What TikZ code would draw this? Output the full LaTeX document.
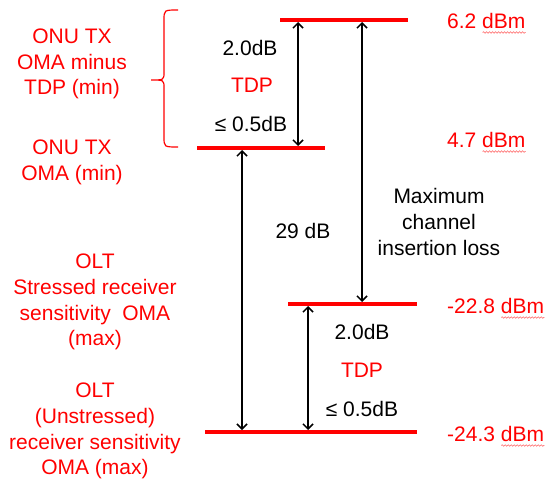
\documentclass[tikz,border=0pt]{standalone}
\usepackage{fontspec}
\setmainfont{Liberation Sans}
\usetikzlibrary{arrows.meta,decorations.pathmorphing}

\begin{document}
\begin{tikzpicture}[%
      x=1pt, y=-1pt,
      powerline/.style={color=red, line width=4pt},
      dbarrow/.style={color=black, line width=1.5pt, shorten <=2pt, shorten >=2pt,
        {Straight Barb[length=5pt,width=10pt]}-{Straight Barb[length=5pt,width=10pt]}},
      txt/.style={font=\fontsize{21}{25.7}\selectfont, align=center, inner sep=0pt},
      redtxt/.style={txt, text=red},
      dbmtext/.style={txt, text=red, anchor=west},
      squiggle/.style={color=red!60, line width=0.6pt, decorate,
        decoration={snake, amplitude=0.8pt, segment length=3pt}},
      ]
      \useasboundingbox (0,0) rectangle (548,481);

      \draw [powerline] (280,20) -- (408,20);
      \draw [powerline] (197,148) -- (325,148);
      \draw [powerline] (288,304) -- (417,304);
      \draw [powerline] (205,432) -- (417,432);

      \coordinate (tdpa) at (298,20);
      \coordinate (tdpb) at (298,148);
      \coordinate (mcla) at (362,20);
      \coordinate (mclb) at (362,304);
      \coordinate (pba) at (242,148);
      \coordinate (pbb) at (242,432);
      \coordinate (tdpc) at (308,304);
      \coordinate (tdpd) at (308,432);

      \draw [dbarrow] (tdpa) -- (tdpb);
      \draw [dbarrow] (mcla) -- (mclb);
      \draw [dbarrow] (pba) -- (pbb);
      \draw [dbarrow] (tdpc) -- (tdpd);

      \draw [color=red, line width=1.2pt] (178,10) .. controls (164,10) .. (164,20)
        -- (164,72) .. controls (164,80) .. (151,80) .. controls (164,80) .. (164,88)
        -- (164,137) .. controls (164,147) .. (178,147);

      \node [redtxt] (onutdp) at (72,64) {ONU TX\\OMA minus\\TDP (min)};
      \node [redtxt] (onutx) at (72,162) {ONU TX\\OMA (min)};
      \node [redtxt] (oltstr) at (95,302) {OLT\\Stressed receiver\\sensitivity\ \ OMA\\(max)};
      \node [redtxt] (oltunstr) at (95,431) {OLT\\(Unstressed)\\receiver sensitivity\\OMA (max)};

      \node [txt] (tdphi) at (250,48) {2.0dB};
      \node [redtxt] (tdpname) at (252,85) {TDP};
      \node [txt] (tdplo) at (251,124) {≤ 0.5dB};
      \node [txt] (tdphi2) at (362,332) {2.0dB};
      \node [redtxt] (tdpname2) at (362,370) {TDP};
      \node [txt] (tdplo2) at (362,409) {≤ 0.5dB};

      \node [txt] (budget) at (303,231) {29 dB};
      \node [txt] (mcil) at (439,222) {Maximum\\channel\\insertion loss};

      \node [dbmtext] (p1) at (447,21) {6.2 dBm};
      \node [dbmtext] (p2) at (447,140) {4.7 dBm};
      \node [dbmtext] (p3) at (447,306) {-22.8 dBm};
      \node [dbmtext] (p4) at (447,434) {-24.3 dBm};
      \foreach \p in {p1,p2,p3,p4}
        \draw [squiggle] ([xshift=-43pt,yshift=-4pt]\p.base east) -- ([yshift=-4pt]\p.base east);
\end{tikzpicture}
\end{document}
